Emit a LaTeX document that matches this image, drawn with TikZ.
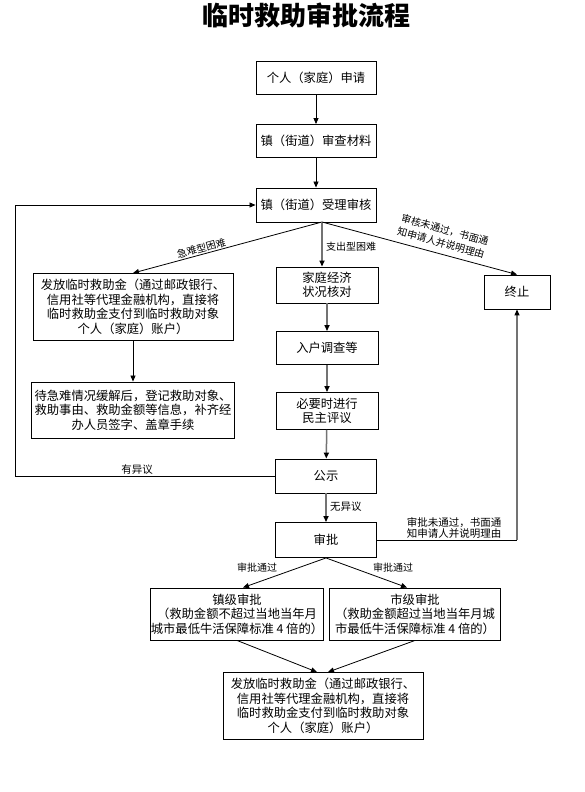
\documentclass[tikz,border=0pt]{standalone}
\usepackage{fontspec}
\setmainfont{Noto Sans CJK SC}
\usetikzlibrary{arrows.meta}
\tikzset{
  box/.style={draw, line width=0.9pt, align=center, inner sep=2pt, font=\fontsize{12.3}{14.5}\selectfont},
  arr/.style={-{Triangle[length=6pt,width=5pt]}, line width=0.8pt},
  garr/.style={-{Triangle[length=6pt,width=5pt,color=black]}, line width=1.5pt, draw=black!55},
  lbl/.style={font=\fontsize{10}{11.5}\selectfont, inner sep=1pt},
  blbl/.style={font=\fontsize{10.5}{11.5}\selectfont, inner sep=1pt}
}
\begin{document}
\begin{tikzpicture}[x=1pt,y=-1pt]
\useasboundingbox[fill=white] (0,0) rectangle (584,792);
\node[font=\fontsize{26}{28}\selectfont\bfseries] (title) at (306,15) {临时救助审批流程};

\node[box, minimum width=120, minimum height=33] (box1) at (316,78) {个人（家庭）申请};
\node[box, minimum width=120, minimum height=33] (box2) at (316,141) {镇（街道）审查材料};
\node[box, minimum width=120, minimum height=34] (box3) at (316,205) {镇（街道）受理审核};

\node[box, minimum width=102, minimum height=36] (econ) at (327,285) {家庭经济\\状况核对};
\node[box, minimum width=102, minimum height=33] (survey) at (327,348) {入户调查等};
\node[box, minimum width=102, minimum height=37] (review) at (327,411) {必要时进行\\民主评议};
\node[box, minimum width=101, minimum height=34] (gongshi) at (326,476) {公示};
\node[box, minimum width=101, minimum height=35] (shenpi) at (326,540) {审批};
\node[box, minimum width=66, minimum height=34] (zhongzhi) at (517,292) {终止};

\node[box, minimum width=200, minimum height=67] (left1) at (133,307) {发放临时救助金（通过邮政银行、\\信用社等代理金融机构，直接将\\临时救助金支付到临时救助对象\\个人（家庭）账户）};
\node[box, minimum width=203, minimum height=56, inner sep=0pt] (left2) at (133,410) {待急难情况缓解后，登记救助对象、\\救助事由、救助金额等信息，补齐经\\办人员签字、盖章手续};

\node[box, minimum width=170, minimum height=52, inner sep=0pt] (town) at (237,614) {镇级审批\\（救助金额不超过当地当年月\\城市最低牛活保障标准 4 倍的）};
\node[box, minimum width=171, minimum height=52, inner sep=0pt] (city) at (415,614) {市级审批\\（救助金额超过当地当年月城\\市最低牛活保障标准 4 倍的）};
\node[box, minimum width=200, minimum height=67] (final) at (323,706) {发放临时救助金（通过邮政银行、\\信用社等代理金融机构，直接将\\临时救助金支付到临时救助对象\\个人（家庭）账户）};

% top chain
\draw[arr] (box1) -- (box2);
\draw[arr] (box2) -- (box3);

% fork
\coordinate (fork) at (322,222);
\draw[arr] (fork) -- node[lbl, sloped, above, pos=0.63] (jinan) {急难型困难} (left1.north);
\draw[garr] (fork) -- (fork |- econ.north);
\node[lbl, anchor=west] (zhichu) at (325,247) {支出型困难};
\draw[arr] (fork) -- (zhongzhi.north);
\node[lbl, rotate=-15.5] (shbtg1) at (445,230) {审核未通过，书面通};
\node[lbl, rotate=-15.5] (shbtg2) at (441,243) {知申请人并说明理由};

% middle chain
\draw[garr] (econ) -- (survey);
\draw[garr] (survey) -- (review);
\draw[garr] (review) -- (gongshi);
\draw[garr] (gongshi) -- (shenpi);
\node[blbl, anchor=west] (wyy) at (329,507) {无异议};

% left chain
\draw[arr] (left1.south) -- (left1.south |- left2.north);

% objection loop
\coordinate (lx) at (15,0);
\draw[arr] (gongshi.west) -- (gongshi.west -| lx) |- (box3.west);
\node[blbl] (yyy) at (137,470) {有异议};

% rejection
\coordinate (corner) at (shenpi.east -| zhongzhi.south);
\draw[line width=0.8pt] (shenpi.east) -- (corner);
\draw[garr, line width=1.2pt] (corner) -- (zhongzhi.south);
\node[blbl, align=left] (spbtg) at (454,528) {审批未通过，书面通\\知申请人并说明理由};

% approval split
\draw[arr] (shenpi.south) -- ([xshift=6]town.north);
\draw[arr] (shenpi.south) -- ([xshift=-8]city.north);
\node[lbl] (tg1) at (257,568) {审批通过};
\node[lbl] (tg2) at (393,568) {审批通过};

% merge
\draw[arr] (town.south) -- ([xshift=-6]final.north);
\draw[arr] (city.south) -- ([xshift=5]final.north);
\end{tikzpicture}
\end{document}
